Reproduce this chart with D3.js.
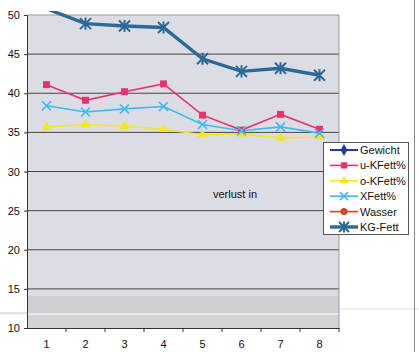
<!DOCTYPE html>
<html>
<head>
<meta charset="utf-8">
<script src="https://cdn.jsdelivr.net/npm/d3@7"></script>
<style>
  body { margin: 0; background: #fff; }
  text { font-family: "Liberation Sans", Arial, sans-serif; }
</style>
</head>
<body>
<svg id="chart" width="419" height="352"></svg>
<script>
const categories = [1, 2, 3, 4, 5, 6, 7, 8];
const yTicks = [10, 15, 20, 25, 30, 35, 40, 45, 50];

// Gewicht and Wasser lie outside the visible scale, only the legend shows them
const gewicht = [null, null, null, null, null, null, null, null];
const uKFett = [41.1, 39.1, 40.2, 41.2, 37.2, 35.3, 37.3, 35.4];
const oKFett = [35.7, 36.0, 35.8, 35.4, 34.7, 34.8, 34.3, 34.4];
const xFett = [38.4, 37.6, 38.0, 38.3, 36.0, 35.2, 35.7, 34.9];
const wasser = [null, null, null, null, null, null, null, null];
const kgFett = [50.8, 48.9, 48.6, 48.4, 44.4, 42.8, 43.2, 42.3];

const series = [
  { name: "Gewicht", values: gewicht, color: "#233c96", symbol: "diamond", width: 2 },
  { name: "u-KFett%", values: uKFett, color: "#e8326f", symbol: "square", width: 1.6 },
  { name: "o-KFett%", values: oKFett, color: "#f3e626", symbol: "triangle", width: 1.6 },
  { name: "XFett%", values: xFett, color: "#3dbaf0", symbol: "cross", width: 1.6 },
  { name: "Wasser", values: wasser, color: "#c9492b", symbol: "circle", width: 1.6 },
  { name: "KG-Fett", values: kgFett, color: "#2b6a95", symbol: "star", width: 3.4 }
];

const svg = d3.select("#chart");
const pLeft = 27, pRight = 339, pTop = 15, pBottom = 328;

const x = d3.scaleBand().domain(categories).range([pLeft, pRight]);
const y = d3.scaleLinear().domain([10, 50]).range([pBottom, pTop]);

// plot area
svg.append("rect").attr("x", pLeft).attr("y", pTop)
  .attr("width", pRight - pLeft).attr("height", pBottom - pTop)
  .attr("fill", "#dcdce4");
svg.append("rect").attr("x", pLeft).attr("y", 296)
  .attr("width", pRight - pLeft).attr("height", 17).attr("fill", "#cfcfd3");
svg.append("rect").attr("x", pLeft).attr("y", 315)
  .attr("width", pRight - pLeft).attr("height", pBottom - 315).attr("fill", "#d3d3d7");
svg.append("line").attr("x1", 0).attr("x2", pRight).attr("y1", 314).attr("y2", 314)
  .attr("stroke", "#f2f2f2").attr("stroke-width", 1.5);
svg.append("line").attr("x1", 0).attr("x2", pLeft).attr("y1", 313).attr("y2", 313)
  .attr("stroke", "#c8c8c8");
svg.append("line").attr("x1", pRight).attr("x2", 419).attr("y1", 309).attr("y2", 309)
  .attr("stroke", "#dddddd");

// grid
svg.append("g").selectAll("line")
  .data(yTicks.filter(d => d > 10))
  .join("line")
  .attr("x1", pLeft).attr("x2", pRight)
  .attr("y1", d => y(d)).attr("y2", d => y(d))
  .attr("stroke", d => d === 50 ? "#9a9aa0" : "#4a4440")
  .attr("stroke-width", 1);
svg.append("line").attr("x1", pRight).attr("x2", pRight).attr("y1", pTop).attr("y2", pBottom)
  .attr("stroke", "#9a9aa0");

// axes
const yAxis = svg.append("g").attr("transform", `translate(${pLeft},0)`)
  .call(d3.axisLeft(y).tickValues(yTicks).tickSize(3).tickPadding(4));
const xAxis = svg.append("g").attr("transform", `translate(0,${pBottom})`)
  .call(d3.axisBottom(x).tickSize(0).tickPadding(12));
[yAxis, xAxis].forEach(g => {
  g.select(".domain").attr("stroke", "#333");
  g.selectAll(".tick line").attr("stroke", "#333");
  g.selectAll("text").attr("font-size", 11).attr("fill", "#111")
    .attr("font-family", "Liberation Sans, Arial, sans-serif");
});
svg.append("g").selectAll("line")
  .data(categories.slice(1))
  .join("line")
  .attr("x1", d => x(d)).attr("x2", d => x(d))
  .attr("y1", pBottom).attr("y2", pBottom + 4)
  .attr("stroke", "#333");
svg.append("line").attr("x1", pRight).attr("x2", pRight)
  .attr("y1", pBottom).attr("y2", pBottom + 4).attr("stroke", "#333");

svg.append("text").attr("x", 213).attr("y", 198)
  .attr("font-size", 11).attr("fill", "#111").text("verlust in");

// lines run a little above the plot frame, markers stay inside it
const defs = svg.append("defs");
defs.append("clipPath").attr("id", "clipLine")
  .append("rect").attr("x", pLeft).attr("y", pTop - 4)
  .attr("width", pRight - pLeft).attr("height", pBottom - pTop + 4);
defs.append("clipPath").attr("id", "clipMark")
  .append("rect").attr("x", pLeft).attr("y", pTop)
  .attr("width", pRight - pLeft).attr("height", pBottom - pTop);

const symbolType = {
  diamond: d3.symbolDiamond, square: d3.symbolSquare, triangle: d3.symbolTriangle,
  circle: d3.symbolCircle
};

function marker(g, s, cx, cy, scale) {
  if (s.symbol === "cross" || s.symbol === "star") {
    const r = (s.symbol === "star" ? 5.5 : 4.5) * scale;
    const p = d3.path();
    p.moveTo(cx - r, cy - r); p.lineTo(cx + r, cy + r);
    p.moveTo(cx - r, cy + r); p.lineTo(cx + r, cy - r);
    if (s.symbol === "star") { p.moveTo(cx, cy - r * 1.1); p.lineTo(cx, cy + r * 1.1); }
    g.append("path").attr("d", p.toString())
      .attr("stroke", s.color).attr("stroke-width", s.symbol === "star" ? 2 : 1.6)
      .attr("fill", "none");
  } else {
    const size = { diamond: 50, square: 48, triangle: 40, circle: 50 }[s.symbol] * scale * scale;
    g.append("path").attr("d", d3.symbol(symbolType[s.symbol], size)())
      .attr("transform", `translate(${cx},${cy})`)
      .attr("fill", s.color);
  }
}

const linesG = svg.append("g").attr("clip-path", "url(#clipLine)");
const marksG = svg.append("g").attr("clip-path", "url(#clipMark)");
const line = d3.line()
  .defined(d => d != null)
  .x((d, i) => x(categories[i]) + x.bandwidth() / 2)
  .y(d => y(d));

series.forEach(s => {
  linesG.append("path").datum(s.values)
    .attr("d", line)
    .attr("fill", "none")
    .attr("stroke", s.color)
    .attr("stroke-width", s.width);
  const mg = marksG.append("g");
  s.values.forEach((v, i) => {
    if (v == null) return;
    marker(mg, s, x(categories[i]) + x.bandwidth() / 2, y(v), 1);
  });
});

// legend
const lg = svg.append("g");
lg.append("rect").attr("x", 323.5).attr("y", 142.5).attr("width", 85).attr("height", 92)
  .attr("fill", "#fff").attr("stroke", "#555");
series.forEach((s, i) => {
  const ly = 150 + i * 15.4;
  lg.append("line").attr("x1", 330).attr("x2", 358).attr("y1", ly).attr("y2", ly)
    .attr("stroke", s.color).attr("stroke-width", s.width);
  marker(lg, s, 344, ly, 0.9);
  lg.append("text").attr("x", 360).attr("y", ly + 4)
    .attr("font-size", 11).attr("fill", "#111").text(s.name);
});

svg.append("line").attr("x1", 414.5).attr("x2", 414.5).attr("y1", 0).attr("y2", 352)
  .attr("stroke", "#888");
</script>
</body>
</html>
